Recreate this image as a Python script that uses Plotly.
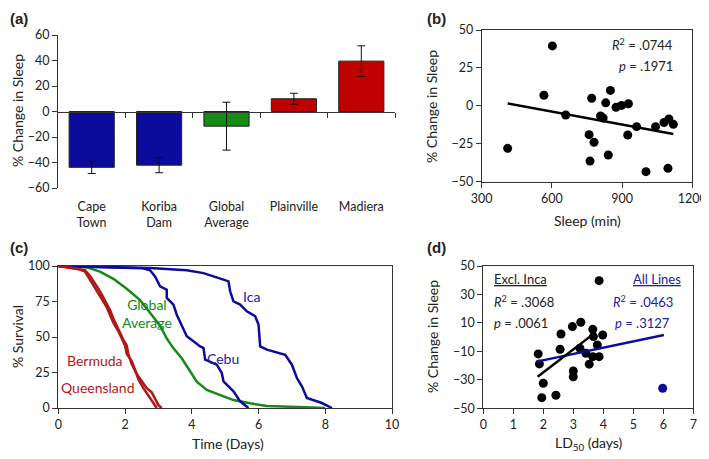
import plotly.graph_objects as go

# (a) bar chart
bar_labels = ["Cape<br>Town", "Koriba<br>Dam", "Global<br>Average", "Plainville", "Madiera"]
bar_values = [-43.8, -42.1, -11.5, 10.0, 39.5]
bar_errors = [4.8, 5.9, 18.8, 4.3, 12.0]

# (b) % change vs baseline sleep
sleep_min = [411, 602, 566, 659, 770, 759, 780, 763, 830, 850, 808, 819,
             874, 898, 927, 924, 962, 841, 1002, 1043, 1079, 1100, 1119, 1096]
sleep_change = [-28, 39.5, 7, -6, 5, -19, -24, -36.4, 2, 10.2, -6.7, -8,
                -1, 0.3, 1.4, -19.2, -13.7, -32.4, -43.4, -13.7, -11, -8.7, -12.2, -41.2]
sleep_fit_x = [411, 1119]
sleep_fit_y = [1.6, -18.6]

# (c) survival curves
bermuda_t = [0, 0.3, 0.6, 0.8, 0.95, 1.1, 1.2, 1.3, 1.45, 1.55, 1.65, 1.75, 1.85,
             1.95, 2.05, 2.1, 2.2, 2.35, 2.5, 2.65, 2.8, 2.9, 3.0, 3.1]
bermuda_s = [100, 99, 98, 97, 93, 88, 84, 80, 74, 69, 63, 58, 52,
             48, 44, 38, 31, 24, 19, 14, 11, 6, 2, 0]
queens_t = [0, 0.3, 0.6, 0.8, 0.9, 1.05, 1.2, 1.35, 1.45, 1.55, 1.65, 1.8,
            1.9, 2.0, 2.05, 2.2, 2.3, 2.4, 2.55, 2.7, 2.85, 2.95]
queens_s = [100, 99, 98, 96, 92, 87, 80, 75, 71, 66, 60, 54,
            49, 44, 38, 33, 27, 20, 14, 9, 4, 0]
global_t = [0, 0.5, 0.85, 1.25, 1.65, 2.05, 2.45, 2.75, 3.05, 3.25, 3.45, 3.7,
            3.95, 4.15, 4.45, 4.85, 5.25, 5.75, 6.25, 6.95, 7.75, 8.0]
global_s = [100, 100, 99, 96, 91, 84, 76, 67, 58, 49, 42, 35,
            26, 18.5, 12.7, 9.2, 5.6, 3.3, 1.4, 0.9, 0.2, 0]
cebu_t = [0, 1, 2, 2.5, 2.75, 2.9, 3.05, 3.25, 3.25, 3.45, 3.55, 3.75,
          3.85, 4.05, 4.25, 4.35, 4.4, 4.75, 4.9, 4.95, 5.25, 5.45, 5.7]
cebu_s = [100, 99.5, 99, 98.5, 97, 92.7, 85.7, 83.3, 77.5, 72.8, 65.7, 56.3,
          50.5, 47, 43.4, 42.3, 34, 30.5, 24.6, 18.8, 11.8, 4.7, 0]
ica_t = [0, 1, 2, 2.75, 3.85, 4.35, 4.95, 5.1, 5.15, 5.25, 5.45, 5.65,
         5.9, 6.0, 6.05, 6.25, 6.8, 7.0, 7.15, 7.3, 7.45, 7.9, 8.2]
ica_s = [100, 99.5, 99, 98.6, 97, 95, 90.4, 89.2, 82.2, 75.1, 72.8, 68.1,
         64.6, 58.7, 43.4, 41.1, 37.5, 30.5, 21.1, 15.3, 7, 3.5, 0]

# (d) % change vs LD50
ld50_days = [3.86, 1.83, 1.87, 2.0, 1.95, 2.42, 2.56, 2.59, 2.97, 3.25, 3.0,
             3.0, 3.22, 3.42, 3.65, 3.67, 3.8, 3.53, 3.86, 3.65, 3.98]
ld50_change = [39.7, -11.8, -18.8, -32.4, -42.5, -40.8, -8.5, 2.2, 7.4, 10.5, -23.8,
               -27.8, -7.8, -11.3, 5.5, 0.4, -5.5, -19, -13.7, -13.7, 1.5]
inca_ld50 = [5.98]
inca_change = [-35.9]
excl_fit_x = [1.81, 3.72]
excl_fit_y = [-27.8, 3.0]
all_fit_x = [1.78, 6.02]
all_fit_y = [-17.2, 1.5]

BLUE = "#0c0c9c"
TEXT_BLUE = "#2020a0"
RED = "#b01818"
GREEN = "#158a15"
BAR_RED = "#c00000"
FONT = "Lato"

# the page body adds an 8px margin, so positions below are given in window
# pixels and shifted back by OFF
OFF = 8
W, H = 709 - OFF, 459 - OFF


def dom_x(a, b):
    return [(a - OFF) / W, (b - OFF) / W]


def dom_y(top, bottom):
    return [1 - (bottom - OFF) / H, 1 - (top - OFF) / H]


fig = go.Figure()

bar_colors = [BLUE, BLUE, GREEN, BAR_RED, BAR_RED]
fig.add_trace(go.Bar(
    x=bar_labels, y=bar_values, marker_color=bar_colors,
    marker_line=dict(color="#222", width=1),
    error_y=dict(type="data", array=bar_errors, color="#111", thickness=1, width=4),
    xaxis="x", yaxis="y", width=0.67,
))
# invisible copy of the bars on a numeric axis, so the zero-line axis of (a) gets drawn
fig.add_trace(go.Bar(x=list(range(len(bar_values))), y=bar_values, opacity=0,
                     hoverinfo="skip", xaxis="x5", yaxis="y", width=0.67))

fig.add_trace(go.Scatter(x=sleep_min, y=sleep_change, mode="markers",
                         marker=dict(color="black", size=9), xaxis="x2", yaxis="y2"))
fig.add_trace(go.Scatter(x=sleep_fit_x, y=sleep_fit_y, mode="lines",
                         line=dict(color="black", width=2.5), xaxis="x2", yaxis="y2"))

for t, s, c in [(global_t, global_s, GREEN), (cebu_t, cebu_s, BLUE), (ica_t, ica_s, BLUE),
                (bermuda_t, bermuda_s, RED), (queens_t, queens_s, RED)]:
    fig.add_trace(go.Scatter(x=t, y=s, mode="lines", line=dict(color=c, width=2.5),
                             xaxis="x3", yaxis="y3", cliponaxis=False))

fig.add_trace(go.Scatter(x=ld50_days, y=ld50_change, mode="markers",
                         marker=dict(color="black", size=9), xaxis="x4", yaxis="y4"))
fig.add_trace(go.Scatter(x=inca_ld50, y=inca_change, mode="markers",
                         marker=dict(color=BLUE, size=9), xaxis="x4", yaxis="y4"))
fig.add_trace(go.Scatter(x=all_fit_x, y=all_fit_y, mode="lines",
                         line=dict(color=BLUE, width=2.5), xaxis="x4", yaxis="y4"))
fig.add_trace(go.Scatter(x=excl_fit_x, y=excl_fit_y, mode="lines",
                         line=dict(color="black", width=2.5), xaxis="x4", yaxis="y4"))

tickfont = dict(family=FONT, size=12.5, color="#222")
axis_common = dict(showgrid=False, zeroline=False, showline=True, linecolor="#333",
                   linewidth=1, ticks="outside", ticklen=5, tickcolor="#333",
                   tickfont=tickfont, automargin=False)
boxed = dict(axis_common, mirror=True)

ya = dom_y(35, 188)
fig.update_layout(
    width=W, height=H, margin=dict(l=0, r=0, t=0, b=0, autoexpand=False),
    plot_bgcolor="white", paper_bgcolor="white", showlegend=False,
    font=dict(family=FONT, color="#222"), barmode="overlay",
    xaxis=dict(domain=dom_x(58, 395), anchor="y", range=[-0.5, 4.5], showline=False,
               ticks="", showgrid=False, tickfont=tickfont, ticklabelstandoff=9,
               automargin=False),
    yaxis=dict(axis_common, domain=ya, anchor="x", range=[-60, 60], dtick=20),
    xaxis5=dict(domain=dom_x(58, 395), overlaying="x", anchor="free",
                position=(ya[0] + ya[1]) / 2, range=[-0.5, 4.5], showgrid=False,
                zeroline=False, showline=True, linecolor="#333", ticks="outside",
                ticklen=5, tickcolor="#333", tickvals=[0.5, 1.5, 2.5, 3.5, 4.5],
                showticklabels=False, automargin=False),
    xaxis2=dict(boxed, domain=dom_x(481.7, 692.3), anchor="y2", range=[300, 1200],
                tickvals=[300, 600, 900, 1200]),
    yaxis2=dict(boxed, domain=dom_y(30, 181.7), anchor="x2", range=[-50, 50],
                tickvals=[-50, -25, 0, 25, 50]),
    xaxis3=dict(boxed, domain=dom_x(58.3, 392), anchor="y3", range=[0, 10], dtick=2),
    yaxis3=dict(boxed, domain=dom_y(266, 408), anchor="x3", range=[0, 100],
                tickvals=[0, 25, 50, 75, 100]),
    xaxis4=dict(boxed, domain=dom_x(483.3, 693.3), anchor="y4", range=[0, 7], dtick=1),
    yaxis4=dict(boxed, domain=dom_y(266, 408.3), anchor="x4", range=[-50, 50],
                tickvals=[-50, -30, -10, 10, 30, 50]),
)


def note(text, x, y, size=14, color="#222", xanchor="center", yanchor="middle",
         angle=0, bold=False):
    fig.add_annotation(text=f"<b>{text}</b>" if bold else text, x=(x - OFF) / W,
                       y=1 - (y - OFF) / H, xref="paper", yref="paper",
                       showarrow=False, xanchor=xanchor, yanchor=yanchor,
                       textangle=angle,
                       font=dict(family="Arial" if bold else FONT, size=size, color=color))


# panel letters
note("(a)", 8, 8, size=15, xanchor="left", yanchor="top", bold=True)
note("(b)", 425, 8, size=15, xanchor="left", yanchor="top", bold=True)
note("(c)", 8, 248, size=15, xanchor="left", bold=True)
note("(d)", 425, 247, size=15, xanchor="left", bold=True)

# axis titles
note("% Change in Sleep", 17, 111, angle=-90)
note("% Change in Sleep", 432, 107, angle=-90)
note("% Survival", 17, 337, angle=-90)
note("% Change in Sleep", 432, 337, angle=-90)
note("Sleep (min)", 587, 220)
note("Time (Days)", 228, 443)
note("LD<sub>50</sub> (days)", 589, 443)

# panel (b) stats
note("<i>R</i><sup>2</sup> = .0744", 675, 44, size=13, xanchor="right")
note("<i>p</i> = .1971", 675, 66, size=13, xanchor="right")

# panel (c) curve labels
note("Ica", 251, 296, color=TEXT_BLUE)
note("Cebu", 223, 358, color=TEXT_BLUE)
note("Global<br>Average", 147, 313, color=GREEN)
note("Bermuda", 95, 360, color=RED)
note("Queensland", 97, 387, color=RED)

# panel (d) stats
note("<u>Excl. Inca</u>", 492, 279, size=13, xanchor="left")
note("<i>R</i><sup>2</sup> = .3068", 492, 301, size=13, xanchor="left")
note("<i>p</i> = .0061", 492, 323, size=13, xanchor="left")
note("<u>All Lines</u>", 683, 279, size=13, color=TEXT_BLUE, xanchor="right")
note("<i>R</i><sup>2</sup> = .0463", 675, 301, size=13, color=TEXT_BLUE, xanchor="right")
note("<i>p</i> = .3127", 672, 323, size=13, color=TEXT_BLUE, xanchor="right")

fig.write_html("out.html")
